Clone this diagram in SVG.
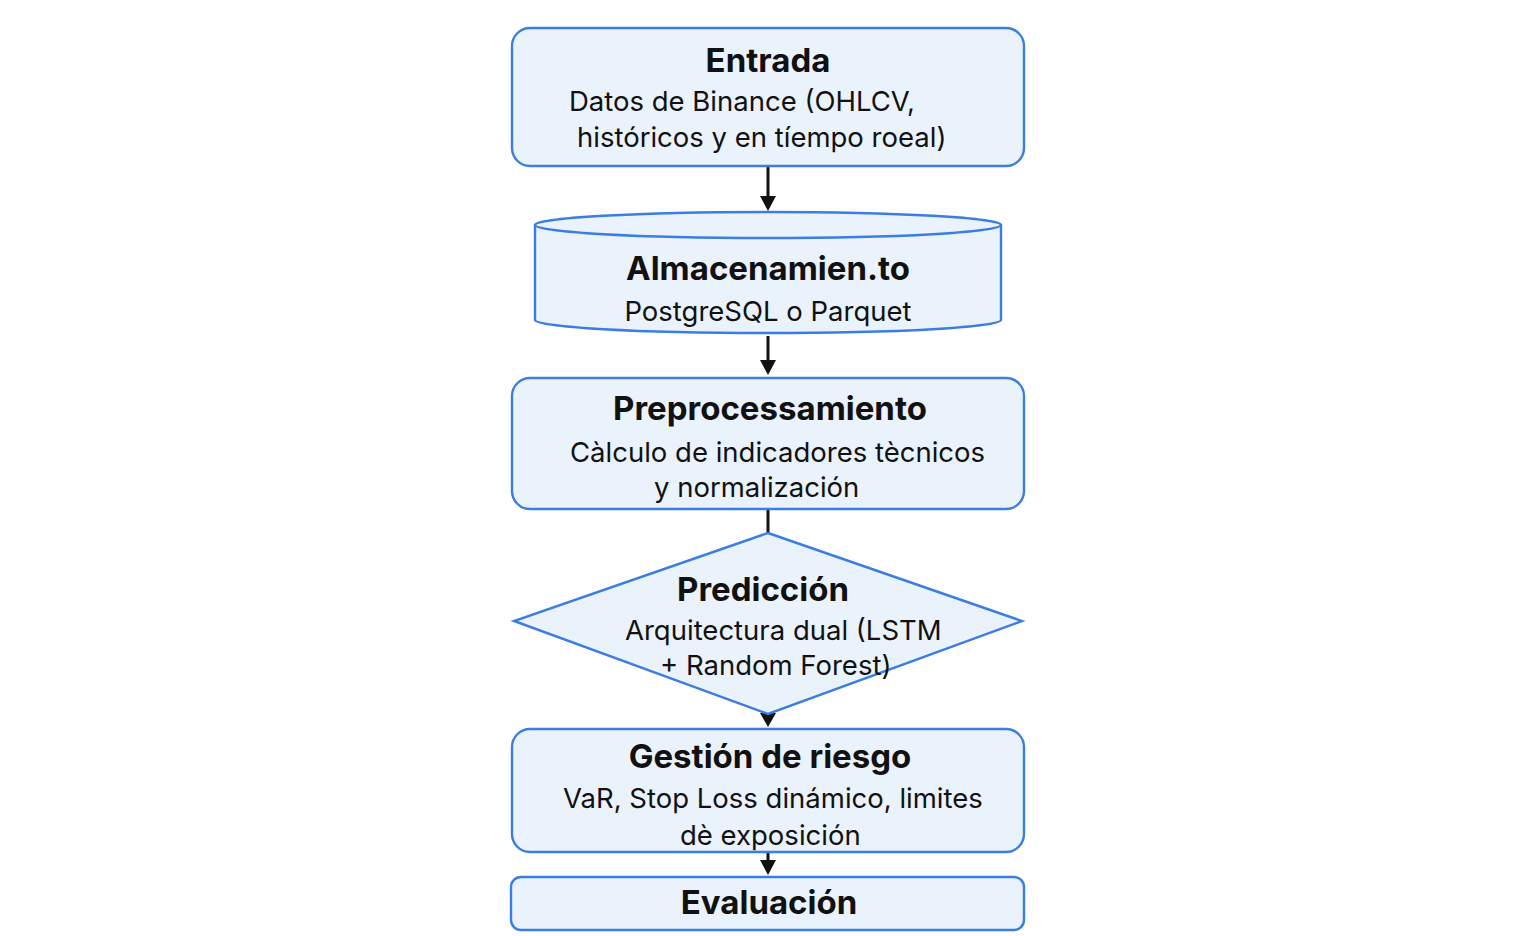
<svg xmlns="http://www.w3.org/2000/svg" width="1536" height="936" viewBox="0 0 1536 936">
<defs>
<style>
.box{fill:#eaf2fc;stroke:#3b7de0;stroke-width:2.4}
.t{font-family:Inter,"Noto Sans","Liberation Sans",sans-serif;font-weight:700;font-size:33px;fill:#111;text-anchor:middle}
.s{font-family:Inter,"Noto Sans","Liberation Sans",sans-serif;font-weight:400;font-size:27.5px;fill:#111}
.c{stroke:#111;stroke-width:3;fill:none}
</style>
</defs>
<rect width="1536" height="936" fill="#fff"/>
<g id="connectors">
<line class="c" x1="768" y1="166" x2="768" y2="198"/>
<path d="M760,196 L776,196 L768,211 Z" fill="#111"/>
<line class="c" x1="768" y1="336" x2="768" y2="362"/>
<path d="M760,360 L776,360 L768,375 Z" fill="#111"/>
<line class="c" x1="768" y1="509" x2="768" y2="533"/>
<path d="M760,713 L776,713 L768,727 Z" fill="#111"/>
<line class="c" x1="768" y1="852" x2="768" y2="862"/>
<path d="M760,860 L776,860 L768,875 Z" fill="#111"/>
</g>
<g id="entrada">
<rect class="box" x="512" y="28" width="512" height="138" rx="18"/>
<text class="t" x="768" y="72">Entrada</text>
<text class="s" x="569" y="111">Datos de Binance (OHLCV,</text>
<text class="s" x="577" y="147">históricos y en tíempo roeal)</text>
</g>
<g id="almacenamiento">
<path class="box" d="M535,225 L535,320 A233,13 0 0 0 1001,320 L1001,225 A233,13 0 0 0 535,225 Z"/>
<path class="box" d="M535,225 A233,13 0 0 0 1001,225" fill="none"/>
<text class="t" x="768" y="280">Almacenamien.to</text>
<text class="s" x="768" y="321" text-anchor="middle">PostgreSQL o Parquet</text>
</g>
<g id="preprocesamiento">
<rect class="box" x="512" y="378" width="512" height="131" rx="18"/>
<text class="t" x="770" y="420">Preprocessamiento</text>
<text class="s" x="570" y="462">Càlculo de indicadores tècnicos</text>
<text class="s" x="654" y="497">y normalización</text>
</g>
<g id="prediccion">
<polygon class="box" points="768,533 1022,621 768,714 514,621"/>
<text class="t" x="763" y="601">Predicción</text>
<text class="s" x="625" y="640">Arquitectura dual (LSTM</text>
<text class="s" x="660" y="675">+ Random Forest)</text>
</g>
<g id="gestion">
<rect class="box" x="512" y="729" width="512" height="123" rx="18"/>
<text class="t" x="770" y="768">Gestión de riesgo</text>
<text class="s" x="563" y="808">VaR, Stop Loss dinámico, limites</text>
<text class="s" x="680" y="845">dè exposición</text>
</g>
<g id="evaluacion">
<rect class="box" x="511" y="877" width="513" height="53" rx="10"/>
<text class="t" x="769" y="914">Evaluación</text>
</g>
</svg>
